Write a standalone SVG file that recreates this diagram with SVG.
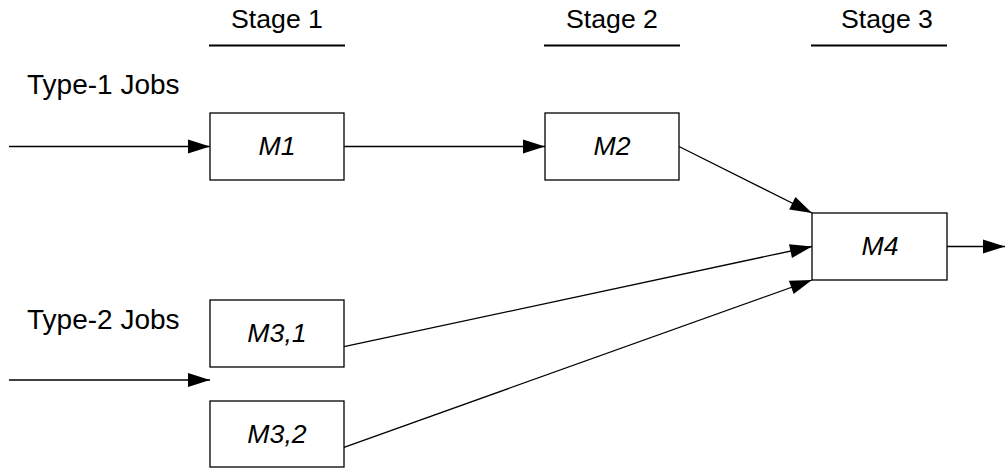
<svg xmlns="http://www.w3.org/2000/svg" width="1005" height="470" viewBox="0 0 1005 470">
<style>
.box{fill:#fff;stroke:#000;stroke-width:1.3}
.lbl{font-family:"Liberation Sans",Arial,sans-serif;font-size:26.67px;fill:#000}
.big{font-size:28px}
.m{font-style:italic;text-anchor:middle}
.c{stroke:#000;stroke-width:1.3;fill:none;marker-end:url(#ah)}
.ul{stroke:#000;stroke-width:2}
</style>
<defs>
<marker id="ah" markerUnits="userSpaceOnUse" markerWidth="23" markerHeight="15" refX="22" refY="7" orient="auto" overflow="visible">
<path d="M0,0 L22,7 L0,14 z" fill="#000"/>
</marker>
</defs>
<g id="stages">
<text class="lbl" x="277" y="28" text-anchor="middle">Stage 1</text>
<line class="ul" x1="209" y1="45.5" x2="345" y2="45.5"/>
<text class="lbl" x="612" y="28" text-anchor="middle">Stage 2</text>
<line class="ul" x1="544" y1="45.5" x2="680" y2="45.5"/>
<text class="lbl" x="887" y="28" text-anchor="middle">Stage 3</text>
<line class="ul" x1="811" y1="45.5" x2="947" y2="45.5"/>
</g>
<g id="labels">
<text class="lbl big" x="27" y="94">Type-1 Jobs</text>
<text class="lbl big" x="27" y="329">Type-2 Jobs</text>
</g>
<g id="connectors">
<line class="c" x1="9" y1="146.5" x2="210" y2="146.5"/>
<line class="c" x1="344" y1="146.5" x2="545" y2="146.5"/>
<line class="c" x1="679" y1="146.5" x2="812" y2="213"/>
<line class="c" x1="344" y1="346.7" x2="812" y2="246.5"/>
<line class="c" x1="344" y1="447.3" x2="812" y2="280"/>
<line class="c" x1="947" y1="246.5" x2="1005" y2="246.5"/>
<line class="c" x1="9" y1="380" x2="210" y2="380"/>
</g>
<g id="M1">
<rect class="box" x="210" y="113" width="134" height="67"/>
<text class="lbl m" x="277" y="155">M1</text>
</g>
<g id="M2">
<rect class="box" x="545" y="113" width="134" height="67"/>
<text class="lbl m" x="612" y="155">M2</text>
</g>
<g id="M4">
<rect class="box" x="812" y="213" width="135" height="67"/>
<text class="lbl m" x="880" y="255">M4</text>
</g>
<g id="M3_1">
<rect class="box" x="210" y="300" width="134" height="67"/>
<text class="lbl m" x="277" y="342">M3,1</text>
</g>
<g id="M3_2">
<rect class="box" x="210" y="401" width="134" height="66"/>
<text class="lbl m" x="277" y="443">M3,2</text>
</g>
</svg>
